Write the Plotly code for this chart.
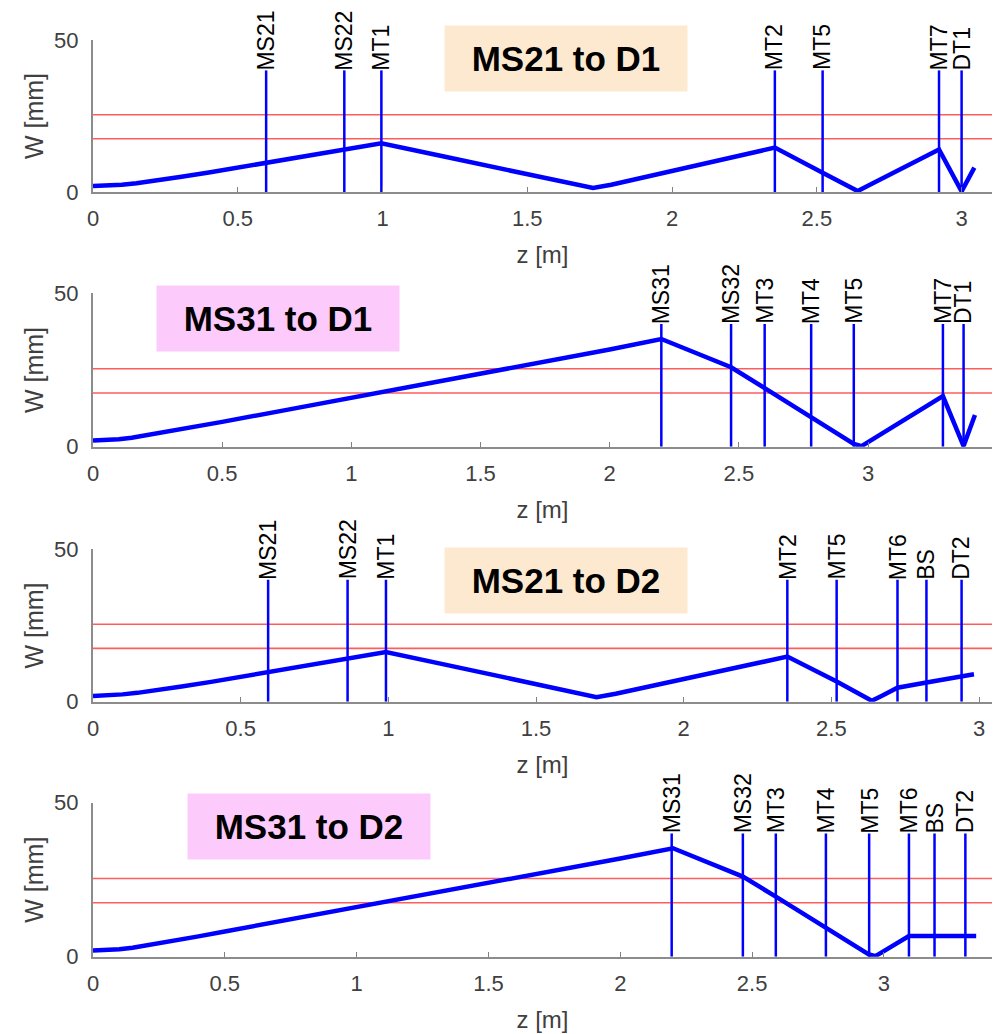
import plotly.graph_objects as go

FONT = "Arial, Liberation Sans, Helvetica, sans-serif"

# ---------------- data ----------------
titles = ["MS21 to D1", "MS31 to D1", "MS21 to D2", "MS31 to D2"]
title_colors = ["#FDE9CF", "#FCCBFC", "#FDE9CF", "#FCCBFC"]

# Panel 1: MS21 to D1
z1 = [0, 0.05, 0.1, 0.15, 0.2, 0.25, 0.3, 0.4, 0.5, 0.6, 0.7, 0.8, 0.868, 0.996, 1.2, 1.4,
      1.6, 1.66, 1.727, 1.79, 2.0, 2.2, 2.355, 2.52, 2.60, 2.641, 2.68, 2.8, 2.922, 3.0, 3.044]
w1 = [2.0, 2.1, 2.4, 2.9, 3.5, 4.2, 4.9, 6.4, 8.0, 9.6, 11.2, 12.8, 14.0, 16.0, 11.9, 7.9,
      3.8, 2.6, 1.3, 2.4, 6.9, 11.2, 14.6, 6.3, 2.3, 0.3, 2.2, 8.0, 14.0, 0.2, 8.0]
m1_names = ["MS21", "MS22", "MT1", "MT2", "MT5", "MT7", "DT1"]
m1_z = [0.598, 0.868, 0.996, 2.355, 2.52, 2.922, 3.0]

# Panel 2: MS31 to D1
z2 = [0, 0.05, 0.1, 0.15, 0.2, 0.25, 0.3, 0.4, 0.5, 0.75, 1.0, 1.25, 1.5, 1.75, 2.0, 2.2,
      2.47, 2.6, 2.78, 2.945, 2.975, 3.1, 3.29, 3.37, 3.414]
w2 = [2.0, 2.1, 2.4, 2.9, 3.6, 4.3, 5.0, 6.5, 8.1, 12.0, 15.9, 19.8, 23.8, 27.7, 31.7, 35.1,
      25.9, 19.1, 9.7, 0.9, 0.2, 6.7, 16.5, 0.2, 10.3]
m2_names = ["MS31", "MS32", "MT3", "MT4", "MT5", "MT7", "DT1"]
m2_z = [2.2, 2.47, 2.6, 2.78, 2.945, 3.29, 3.37]

# Panel 3: MS21 to D2
z3 = [0, 0.05, 0.1, 0.15, 0.2, 0.25, 0.3, 0.4, 0.5, 0.6, 0.7, 0.8, 0.862, 0.992, 1.2, 1.4,
      1.6, 1.64, 1.705, 1.77, 2.0, 2.2, 2.351, 2.518, 2.6, 2.637, 2.67, 2.724, 2.822, 2.941, 2.983]
w3 = [1.9, 2.0, 2.4, 2.9, 3.5, 4.2, 5.0, 6.5, 8.2, 9.8, 11.4, 13.0, 14.2, 16.3, 12.0, 7.8,
      3.6, 2.8, 1.5, 2.6, 7.4, 11.6, 14.8, 6.6, 2.3, 0.3, 1.9, 4.6, 6.3, 8.2, 9.0]
m3_names = ["MS21", "MS22", "MT1", "MT2", "MT5", "MT6", "BS", "DT2"]
m3_z = [0.593, 0.862, 0.992, 2.351, 2.518, 2.724, 2.822, 2.941]

# Panel 4: MS31 to D2
z4 = [0, 0.05, 0.1, 0.15, 0.2, 0.25, 0.3, 0.4, 0.5, 0.75, 1.0, 1.25, 1.5, 1.75, 2.0, 2.2,
      2.465, 2.59, 2.78, 2.944, 2.968, 3.095, 3.35]
w4 = [2.0, 2.1, 2.4, 2.9, 3.6, 4.3, 5.0, 6.6, 8.2, 12.1, 16.1, 20.1, 24.1, 28.0, 31.9, 35.2,
      26.0, 19.5, 9.4, 0.7, 0.2, 6.7, 6.7]
m4_names = ["MS31", "MS32", "MT3", "MT4", "MT5", "MT6", "BS", "DT2"]
m4_z = [2.195, 2.465, 2.59, 2.78, 2.944, 3.095, 3.192, 3.309]

x_max = [3.105, 3.48, 3.044, 3.41]
limits = [25.4, 17.5]          # red reference lines [mm]
marker_height = 40             # height of component marker lines [mm]
tick_vals = [0, 0.5, 1, 1.5, 2, 2.5, 3]

# ---------------- layout geometry ----------------
FW, FH = 1005, 1034
OFF = 8  # page body margin of the html page
x_dom = [(93 - OFF) / FW, (992 - OFF) / FW]
y_px = [(192, 40), (446.7, 293.3), (701.7, 549.3), (956.7, 802.7)]   # (y=0 px, y=50 px)
box_px = [(566, 58.5), (278, 318.5), (566, 580.5), (309, 826)]

panels = [(z1, w1, m1_names, m1_z), (z2, w2, m2_names, m2_z),
          (z3, w3, m3_names, m3_z), (z4, w4, m4_names, m4_z)]

fig = go.Figure()
layout = dict(
    width=FW, height=FH, template="none",
    margin=dict(l=0, r=0, t=0, b=0),
    paper_bgcolor="white", plot_bgcolor="white",
    showlegend=False, font=dict(family=FONT, color="#404040"),
)
annotations = []
shapes = []

for i, (zz, ww, names, mz) in enumerate(panels):
    k = i + 1
    xa = "x" if k == 1 else f"x{k}"
    ya = "y" if k == 1 else f"y{k}"
    xkey = "xaxis" if k == 1 else f"xaxis{k}"
    ykey = "yaxis" if k == 1 else f"yaxis{k}"
    y0p, y50p = y_px[i]

    layout[xkey] = dict(
        domain=x_dom, anchor=ya, range=[0, x_max[i]],
        tickvals=tick_vals, ticks="inside", ticklen=5, tickwidth=1, tickcolor="#808080",
        showline=True, linecolor="#8c8c8c", linewidth=2, showgrid=False, zeroline=False,
        tickfont=dict(size=22, color="#404040", family=FONT), ticklabelstandoff=6,
        title=dict(text="z [m]", font=dict(size=24, color="#404040", family=FONT), standoff=16),
    )
    layout[ykey] = dict(
        domain=[1 - (y0p - OFF) / FH, 1 - (y50p - OFF) / FH], anchor=xa, range=[0, 50],
        tickvals=[0, 50], ticks="inside", ticklen=5, tickwidth=1, tickcolor="#808080",
        showline=True, linecolor="#8c8c8c", linewidth=2, showgrid=False, zeroline=False,
        tickfont=dict(size=22, color="#404040", family=FONT), ticklabelstandoff=8,
        title=dict(text="W [mm]", font=dict(size=25, color="#404040", family=FONT), standoff=3),
    )

    # red limit lines
    for lv in limits:
        shapes.append(dict(type="line", xref=f"{xa} domain", yref=ya, x0=0, x1=1,
                           y0=lv, y1=lv, line=dict(color="#ff5c5c", width=1.6), layer="below"))

    # component marker lines
    mx, my = [], []
    for p in mz:
        mx += [p, p, None]
        my += [0, marker_height, None]
    fig.add_trace(go.Scatter(x=mx, y=my, mode="lines", xaxis=xa, yaxis=ya,
                             line=dict(color="#0000ff", width=2.5), hoverinfo="skip"))
    # beam width curve
    fig.add_trace(go.Scatter(x=zz, y=ww, mode="lines", xaxis=xa, yaxis=ya,
                             line=dict(color="#0000ff", width=4.5)))

    # marker labels
    for name, p in zip(names, mz):
        annotations.append(dict(x=p, y=marker_height, xref=xa, yref=ya, text=name,
                                textangle=-90, showarrow=False, xanchor="center",
                                yanchor="bottom", yshift=-1, borderpad=0,
                                font=dict(size=23, color="black", family=FONT)))

    # title box
    cx, cy = box_px[i]
    annotations.append(dict(x=(cx - OFF) / FW, y=1 - (cy - OFF) / FH, xref="paper", yref="paper",
                            text=f"<b>{titles[i]}</b>", showarrow=False,
                            xanchor="center", yanchor="middle",
                            width=242, height=65, borderpad=0,
                            bgcolor=title_colors[i], align="center", valign="middle",
                            font=dict(size=35, color="black", family=FONT)))

layout["annotations"] = annotations
layout["shapes"] = shapes
fig.update_layout(**layout)
fig.write_html("out.html")
